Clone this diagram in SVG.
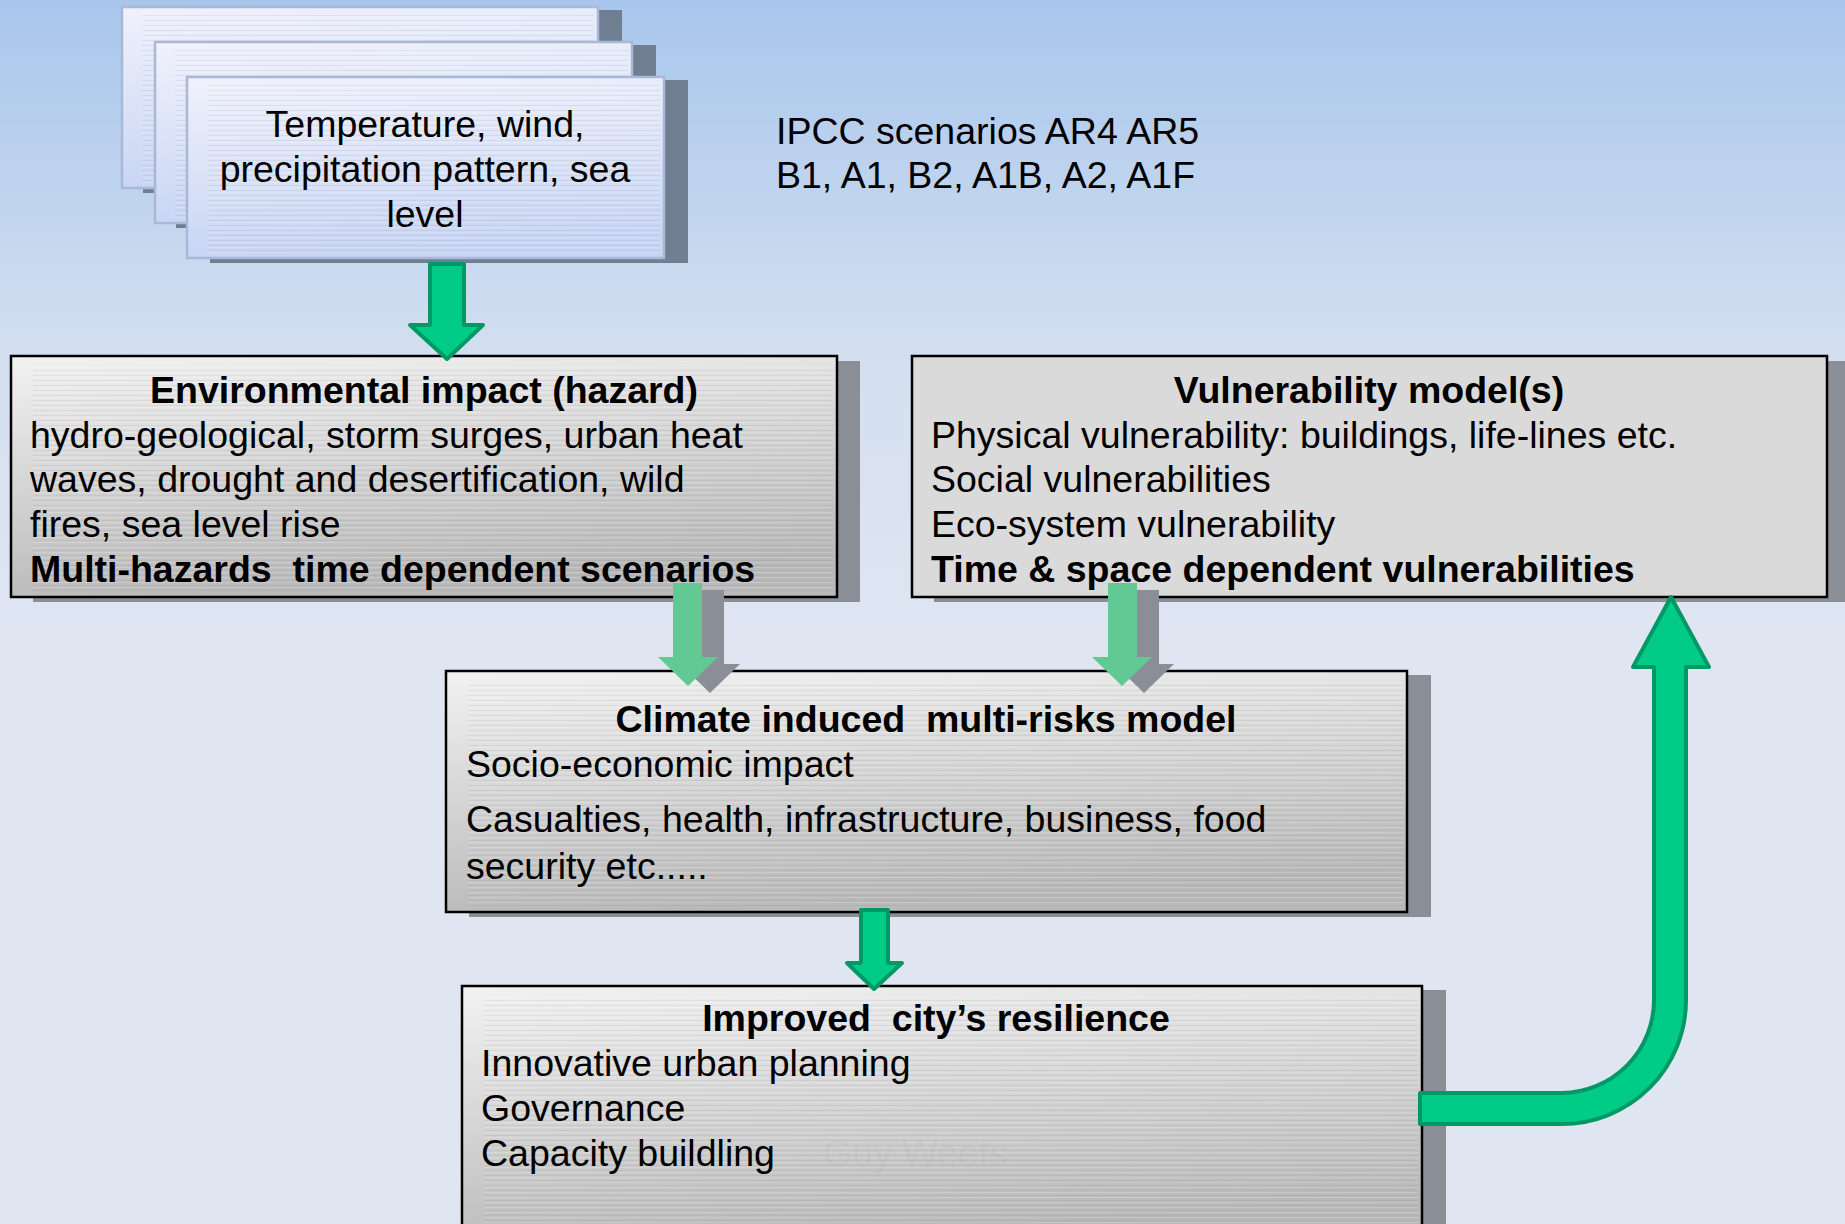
<svg xmlns="http://www.w3.org/2000/svg" width="1845" height="1224" viewBox="0 0 1845 1224">
<defs>
<linearGradient id="bg" x1="0" y1="0" x2="0" y2="640" gradientUnits="userSpaceOnUse">
<stop offset="0" stop-color="#A8C6EC"/>
<stop offset="0.55" stop-color="#D3DFF0"/>
<stop offset="1" stop-color="#DFE6F2"/>
</linearGradient>
<linearGradient id="card" x1="0" y1="0" x2="0.15" y2="1">
<stop offset="0" stop-color="#F0F2FC"/>
<stop offset="1" stop-color="#C8D5F3"/>
</linearGradient>
<linearGradient id="metal" x1="0" y1="0" x2="0.25" y2="1">
<stop offset="0" stop-color="#F2F2F2"/>
<stop offset="1" stop-color="#B9B9B9"/>
</linearGradient>
<pattern id="stripes" width="12" height="5" patternUnits="userSpaceOnUse">
<rect x="0" y="0" width="12" height="1" fill="#000" fill-opacity="0.055"/>
<rect x="0" y="2" width="12" height="1" fill="#fff" fill-opacity="0.18"/>
</pattern>
<style>
.t{font-family:"Liberation Sans",Arial,sans-serif;font-size:37.5px;fill:#000}
.b{font-weight:bold}
.c{text-anchor:middle}
.cardShadow{fill:#707E92}
.boxShadow{fill:#8A8E96}
.card{fill:url(#card);stroke:#A9B8D6;stroke-width:2.5}
.box{fill:url(#metal);stroke:#000;stroke-width:2.5}
.flat{fill:#DADADA;stroke:#000;stroke-width:2.5}
.str{fill:url(#stripes)}
.ga{fill:#00CC88;stroke:#009966;stroke-width:4;stroke-linejoin:round}
.la{fill:#62C994}
.ls{fill:#8A8E96}
</style>
</defs>
<rect x="0" y="0" width="1845" height="1224" fill="url(#bg)"/>

<g id="climate-drivers">
<rect class="cardShadow" x="143" y="10" width="479" height="183"/>
<rect class="card" x="122" y="7" width="476" height="181"/>
<rect class="str" x="142" y="15" width="452" height="168"/>
<rect class="cardShadow" x="176" y="45" width="480" height="183"/>
<rect class="card" x="155" y="42" width="477" height="181"/>
<rect class="str" x="175" y="50" width="453" height="168"/>
<rect class="cardShadow" x="210" y="80" width="478" height="183"/>
<rect class="card" x="187" y="77" width="477" height="181"/>
<rect class="str" x="208" y="85" width="452" height="168"/>
<text class="t c" x="425" y="137">Temperature, wind,</text>
<text class="t c" x="425" y="182">precipitation pattern, sea</text>
<text class="t c" x="425" y="227">level</text>
</g>

<g id="ipcc-scenarios">
<text class="t" x="776" y="144">IPCC scenarios AR4 AR5</text>
<text class="t" x="776" y="188">B1, A1, B2, A1B, A2, A1F</text>
</g>

<g id="environmental-impact">
<rect class="boxShadow" x="33" y="361" width="827" height="241"/>
<rect class="box" x="11" y="356" width="826" height="241"/>
<rect class="str" x="33" y="366" width="800" height="226"/>
<text class="t b c" x="424" y="403">Environmental impact (hazard)</text>
<text class="t" x="30" y="448">hydro-geological, storm surges, urban heat</text>
<text class="t" x="30" y="492">waves, drought and desertification, wild</text>
<text class="t" x="30" y="537">fires, sea level rise</text>
<text class="t b" x="30" y="582" xml:space="preserve">Multi-hazards  time dependent scenarios</text>
</g>

<g id="vulnerability-model">
<rect class="boxShadow" x="934" y="361" width="915" height="241"/>
<rect class="flat" x="912" y="356" width="915" height="241"/>
<text class="t b c" x="1369" y="403">Vulnerability model(s)</text>
<text class="t" x="931" y="448">Physical vulnerability: buildings, life-lines etc.</text>
<text class="t" x="931" y="492">Social vulnerabilities</text>
<text class="t" x="931" y="537">Eco-system vulnerability</text>
<text class="t b" x="931" y="582">Time &amp; space dependent vulnerabilities</text>
</g>

<g id="multi-risks-model">
<rect class="boxShadow" x="469" y="675" width="962" height="242"/>
<rect class="box" x="446" y="671" width="961" height="241"/>
<rect class="str" x="468" y="681" width="935" height="226"/>
<text class="t b c" x="926" y="732" xml:space="preserve">Climate induced  multi-risks model</text>
<text class="t" x="466" y="777">Socio-economic impact</text>
<text class="t" x="466" y="832">Casualties, health, infrastructure, business, food</text>
<text class="t" x="466" y="879">security etc.....</text>
</g>

<g id="city-resilience">
<rect class="boxShadow" x="484" y="990" width="962" height="260"/>
<rect class="box" x="462" y="986" width="960" height="260"/>
<rect class="str" x="484" y="996" width="934" height="240"/>
<text class="t b c" x="936" y="1031" xml:space="preserve">Improved  city’s resilience</text>
<text class="t" x="481" y="1076">Innovative urban planning</text>
<text class="t" x="481" y="1121">Governance</text>
<text class="t" x="481" y="1166">Capacity buildling</text>
<text class="t" x="823" y="1166" style="fill:#9a9a9a;fill-opacity:0.1">Guy Weets</text>
</g>

<g id="connectors">
<path class="ga" d="M430,264 L464,264 L464,325 L483,325 L447,359 L410,325 L430,325 Z"/>
<path class="ls" d="M695,590 L724,590 L724,664 L740,664 L710,693 L680,664 L695,664 Z"/>
<path class="la" d="M673,583 L702,583 L702,657 L718,657 L688,686 L658,657 L673,657 Z"/>
<path class="ls" d="M1130,590 L1159,590 L1159,664 L1174,664 L1144,693 L1114,664 L1130,664 Z"/>
<path class="la" d="M1108,583 L1137,583 L1137,657 L1152,657 L1122,686 L1092,657 L1108,657 Z"/>
<path class="ga" d="M861,910 L888,910 L888,963 L902,963 L874,989 L847,963 L861,963 Z"/>
<path class="ga" d="M1671,597 L1709,667 L1686,667 L1686,1000 A124,124 0 0 1 1562,1124 L1420,1124 L1420,1093 L1562,1093 A93,93 0 0 0 1654,1000 L1654,667 L1633,667 Z"/>
</g>
</svg>
